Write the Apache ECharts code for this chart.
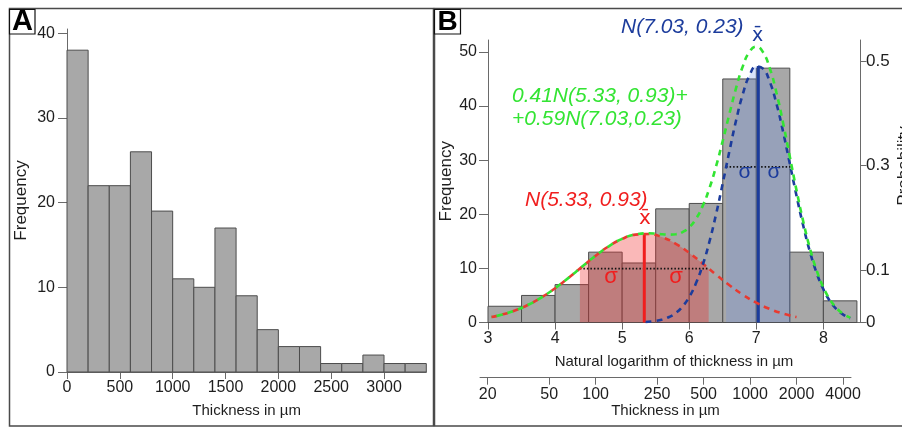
<!DOCTYPE html>
<html><head><meta charset="utf-8">
<script src="https://cdn.jsdelivr.net/npm/echarts@6/dist/echarts.min.js"></script>
<style>html,body{margin:0;padding:0;background:#fff}#c{width:902px;height:429px}</style>
</head><body><div id="c"></div>
<script>
// ---------- Panel A data ----------
const aBinStart = 0;
const aBinWidth = 200;
const aCounts = [38, 22, 22, 26, 19, 11, 10, 17, 9, 5, 3, 3, 1, 1, 2, 1, 1];
const aXTicks = [0, 500, 1000, 1500, 2000, 2500, 3000];
const aYTicks = [0, 10, 20, 30, 40];

// ---------- Panel B data ----------
const bBinStart = 3;
const bBinWidth = 0.5;
const bCounts = [3, 5, 7, 13, 11, 21, 22, 45, 47, 13, 4];
const bXTicks = [3, 4, 5, 6, 7, 8];
const bFreqTicks = [0, 10, 20, 30, 40, 50];
const bProbTicks = [0, 0.1, 0.3, 0.5];
const thicknessTicks = [20, 50, 100, 250, 500, 1000, 2000, 4000];

// curves (x = ln thickness, y = probability)
const redCurve = [[3.05,0.0104],[3.2,0.0148],[3.4,0.0229],[3.6,0.0339],[3.8,0.0482],[4.0,0.0655],[4.2,0.0854],[4.4,0.1065],[4.6,0.1274],[4.8,0.1458],[5.0,0.1600],[5.2,0.1681],[5.4,0.1692],[5.6,0.1631],[5.8,0.1506],[6.0,0.1332],[6.2,0.1129],[6.4,0.0916],[6.6,0.0713],[6.8,0.0531],[7.0,0.0379],[7.2,0.0259],[7.4,0.0169],[7.6,0.0106]];
const blueCurve = [[5.35,0.0011],[5.5,0.0030],[5.6,0.0058],[5.7,0.0105],[5.8,0.0183],[5.9,0.0306],[6.0,0.0489],[6.1,0.0749],[6.2,0.1098],[6.3,0.1541],[6.4,0.2071],[6.5,0.2665],[6.6,0.3284],[6.7,0.3873],[6.8,0.4375],[6.9,0.4731],[7.0,0.4898],[7.1,0.4856],[7.2,0.4609],[7.3,0.4189],[7.4,0.3645],[7.5,0.3036],[7.6,0.2422],[7.7,0.1850],[7.8,0.1353],[7.9,0.0947],[8.0,0.0635],[8.1,0.0407],[8.2,0.0250],[8.3,0.0147],[8.4,0.0083]];
const greenCurve = [[3.05,0.0104],[3.2,0.0148],[3.4,0.0229],[3.6,0.0339],[3.8,0.0482],[4.0,0.0655],[4.2,0.0854],[4.4,0.1065],[4.6,0.1274],[4.8,0.1458],[5.0,0.1600],[5.2,0.1684],[5.4,0.1707],[5.5,0.1700],[5.6,0.1688],[5.7,0.1681],[5.8,0.1689],[5.9,0.1730],[6.0,0.1821],[6.1,0.1982],[6.2,0.2227],[6.3,0.2564],[6.4,0.2987],[6.5,0.3477],[6.6,0.3996],[6.7,0.4492],[6.8,0.4906],[6.9,0.5182],[7.0,0.5277],[7.1,0.5171],[7.2,0.4868],[7.3,0.4399],[7.4,0.3814],[7.5,0.3171],[7.6,0.2528],[7.7,0.1932],[7.8,0.1416],[7.9,0.0996],[8.0,0.0671],[8.1,0.0435],[8.2,0.0271],[8.3,0.0162],[8.4,0.0094]];
const redSigmaArea = [[4.37,0.1030],[4.6,0.1274],[4.8,0.1458],[5.0,0.1600],[5.2,0.1681],[5.4,0.1692],[5.6,0.1631],[5.8,0.1506],[6.0,0.1332],[6.2,0.1129],[6.29,0.1030]];
const blueSigmaArea = [[6.55,0.2977],[6.6,0.3284],[6.7,0.3873],[6.8,0.4375],[6.9,0.4731],[7.0,0.4898],[7.1,0.4856],[7.2,0.4609],[7.3,0.4189],[7.4,0.3645],[7.51,0.2977]];
const redMean = [[5.33,0],[5.33,0.1696]];
const blueMean = [[7.03,0],[7.03,0.4908]];
const redSigmaLine = [[4.37,0.1030],[6.29,0.1030]];
const blueSigmaLine = [[6.55,0.2977],[7.51,0.2977]];

// ---------- styling ----------
const FONT = '"Liberation Sans", Arial, Helvetica, sans-serif';
const TXT = '#1e1e1e';
const AX = '#6a6a6a';
const RED = '#f01e1e';
const BLUE = '#1c3c9c';
const GREEN = '#33e433';

function histData(start, width, counts) {
  return counts.map((c, i) => [start + i * width, start + (i + 1) * width, c]);
}
function renderBar(params, api) {
  const p0 = api.coord([api.value(0), api.value(2)]);
  const p1 = api.coord([api.value(1), 0]);
  return {type: 'rect', shape: {x: p0[0], y: p0[1], width: p1[0] - p0[0], height: p1[1] - p0[1]},
          style: {fill: '#a8a8a8', stroke: '#4d4d4d', lineWidth: 1}};
}
function valAxis(o) {
  const ticks = o.ticks;
  return Object.assign({
    type: 'value',
    axisLine: {show: true, lineStyle: {color: AX, width: 1}},
    axisTick: {show: true, customValues: ticks, length: o.tickLen || 7, lineStyle: {color: AX}},
    axisLabel: {customValues: ticks, fontSize: o.fs || 16, color: TXT, margin: o.margin || 8, fontFamily: FONT,
                formatter: o.formatter || (v => String(v))},
    splitLine: {show: false},
    nameLocation: 'middle',
    nameTextStyle: {fontSize: o.nfs || 15, color: TXT, fontFamily: FONT}
  }, o.extra);
}

const chart = echarts.init(document.getElementById('c'), null, {renderer: 'canvas'});
const option = {
  animation: false,
  textStyle: {fontFamily: FONT},
  grid: [
    {left: 67, right: 475.7, top: 29, bottom: 57, outerBoundsMode: 'none', containLabel: false},
    {left: 488, right: 42, top: 40, bottom: 106.5, outerBoundsMode: 'none', containLabel: false},
    {left: 480, right: 51, top: 360, bottom: 51.3, outerBoundsMode: 'none', containLabel: false}
  ],
  xAxis: [
    valAxis({ticks: aXTicks, tickLen: 7, margin: 8, extra: {gridIndex: 0, min: 0, max: 3400, name: 'Thickness in µm', nameGap: 31}}),
    valAxis({ticks: bXTicks, tickLen: 7, margin: 8, extra: {gridIndex: 1, min: 3, max: 8.546, name: 'Natural logarithm of thickness in µm', nameGap: 32}}),
    valAxis({ticks: thicknessTicks.map(Math.log), tickLen: 7, margin: 9,
             formatter: v => String(Math.round(Math.exp(v))),
             extra: {gridIndex: 2, min: 2.881, max: 8.412, name: 'Thickness in µm', nameGap: 26}})
  ],
  yAxis: [
    valAxis({ticks: aYTicks, tickLen: 9, margin: 12, nfs: 17, extra: {gridIndex: 0, min: 0, max: 40.5, name: 'Frequency', nameGap: 37}}),
    valAxis({ticks: bFreqTicks, tickLen: 9, margin: 11, nfs: 17, extra: {gridIndex: 1, min: 0, max: 52.2, name: 'Frequency', nameGap: 33}}),
    valAxis({ticks: bProbTicks, tickLen: 6.5, margin: 6, fs: 17, formatter: v => String(Math.round(v * 10) / 10),
             extra: {gridIndex: 1, position: 'right', min: 0, max: 0.5405}}),
    {gridIndex: 2, type: 'value', show: false, min: 0, max: 1}
  ],
  series: [
    {type: 'custom', xAxisIndex: 0, yAxisIndex: 0, renderItem: renderBar, data: histData(aBinStart, aBinWidth, aCounts), encode: {x: [0, 1], y: 2}, z: 2},
    {type: 'custom', xAxisIndex: 1, yAxisIndex: 1, renderItem: renderBar, data: histData(bBinStart, bBinWidth, bCounts), encode: {x: [0, 1], y: 2}, z: 2},
    {type: 'line', xAxisIndex: 1, yAxisIndex: 2, data: redSigmaArea, smooth: true, symbol: 'none', lineStyle: {width: 0, opacity: 0}, areaStyle: {color: 'rgba(240,40,40,0.33)', opacity: 1}, z: 3},
    {type: 'line', xAxisIndex: 1, yAxisIndex: 2, data: blueSigmaArea, smooth: true, symbol: 'none', lineStyle: {width: 0, opacity: 0}, areaStyle: {color: 'rgba(100,140,235,0.25)', opacity: 1}, z: 3},
    {type: 'line', xAxisIndex: 1, yAxisIndex: 2, data: redSigmaLine, symbol: 'none', lineStyle: {color: '#111', width: 1.6, type: [1.5, 2]}, z: 5},
    {type: 'line', xAxisIndex: 1, yAxisIndex: 2, data: blueSigmaLine, symbol: 'none', lineStyle: {color: '#111', width: 1.6, type: [1.5, 2]}, z: 5},
    {type: 'line', xAxisIndex: 1, yAxisIndex: 2, data: redMean, symbol: 'none', lineStyle: {color: RED, width: 3}, z: 6},
    {type: 'line', xAxisIndex: 1, yAxisIndex: 2, data: blueMean, symbol: 'none', lineStyle: {color: BLUE, width: 3}, z: 6},
    {type: 'line', xAxisIndex: 1, yAxisIndex: 2, data: redCurve, smooth: true, symbol: 'none', lineStyle: {color: '#e83a30', width: 2.6, type: [6, 5]}, z: 7},
    {type: 'line', xAxisIndex: 1, yAxisIndex: 2, data: blueCurve, smooth: true, symbol: 'none', lineStyle: {color: BLUE, width: 2.6, type: [6, 5]}, z: 7},
    {type: 'line', xAxisIndex: 1, yAxisIndex: 2, data: greenCurve, smooth: true, symbol: 'none', lineStyle: {color: GREEN, width: 2.6, type: [6, 5], dashOffset: 5.5}, z: 8}
  ],
  graphic: [
    {type: 'rect', silent: true, z: -10, shape: {x: 9.5, y: 8.5, width: 424, height: 417.5}, style: {fill: 'none', stroke: '#4a4a4a', lineWidth: 1.5}},
    {type: 'rect', silent: true, z: -10, shape: {x: 434.5, y: 8.5, width: 480, height: 417.5}, style: {fill: 'none', stroke: '#4a4a4a', lineWidth: 1.5}},
    {type: 'rect', z: 100, shape: {x: 9.5, y: 9.5, width: 25.5, height: 24.5}, style: {fill: '#fff', stroke: '#111', lineWidth: 1.2}},
    {type: 'text', z: 101, x: 22.5, y: 22, style: {text: 'A', font: 'bold 29px ' + FONT, fill: '#000', align: 'center', verticalAlign: 'middle'}},
    {type: 'rect', z: 100, shape: {x: 434.5, y: 9.5, width: 26, height: 24.5}, style: {fill: '#fff', stroke: '#111', lineWidth: 1.2}},
    {type: 'text', z: 101, x: 447.5, y: 22, style: {text: 'B', font: 'bold 28px ' + FONT, fill: '#000', align: 'center', verticalAlign: 'middle'}},
    {type: 'text', z: 50, x: 621, y: 27.5, style: {text: 'N(7.03, 0.23)', font: 'italic 21px ' + FONT, fill: BLUE, align: 'left', verticalAlign: 'middle'}},
    {type: 'text', z: 50, x: 512, y: 96.5, style: {text: '0.41N(5.33, 0.93)+', font: 'italic 21px ' + FONT, fill: GREEN, align: 'left', verticalAlign: 'middle'}},
    {type: 'text', z: 50, x: 512, y: 119.5, style: {text: '+0.59N(7.03,0.23)', font: 'italic 21px ' + FONT, fill: GREEN, align: 'left', verticalAlign: 'middle'}},
    {type: 'text', z: 50, x: 525, y: 200, style: {text: 'N(5.33, 0.93)', font: 'italic 21px ' + FONT, fill: RED, align: 'left', verticalAlign: 'middle'}},
    {type: 'text', z: 50, x: 757.5, y: 36, style: {text: 'x\u0304', font: '19px "DejaVu Sans", sans-serif', fill: BLUE, align: 'center', verticalAlign: 'middle'}},
    {type: 'text', z: 50, x: 645, y: 219, style: {text: 'x\u0304', font: '20px "DejaVu Sans", sans-serif', fill: RED, align: 'center', verticalAlign: 'middle'}},
    {type: 'text', z: 50, x: 611, y: 277, style: {text: 'σ', font: '22px ' + FONT, fill: RED, align: 'center', verticalAlign: 'middle'}},
    {type: 'text', z: 50, x: 676, y: 277, style: {text: 'σ', font: '22px ' + FONT, fill: RED, align: 'center', verticalAlign: 'middle'}},
    {type: 'text', z: 50, x: 745, y: 172, style: {text: 'σ', font: '21px ' + FONT, fill: BLUE, align: 'center', verticalAlign: 'middle'}},
    {type: 'text', z: 50, x: 774, y: 172, style: {text: 'σ', font: '21px ' + FONT, fill: BLUE, align: 'center', verticalAlign: 'middle'}},
    {type: 'text', z: 50, x: 904, y: 166, rotation: Math.PI / 2, style: {text: 'Probability', font: '17px ' + FONT, fill: TXT, align: 'center', verticalAlign: 'middle'}}
  ]
};
chart.setOption(option);
</script></body></html>
